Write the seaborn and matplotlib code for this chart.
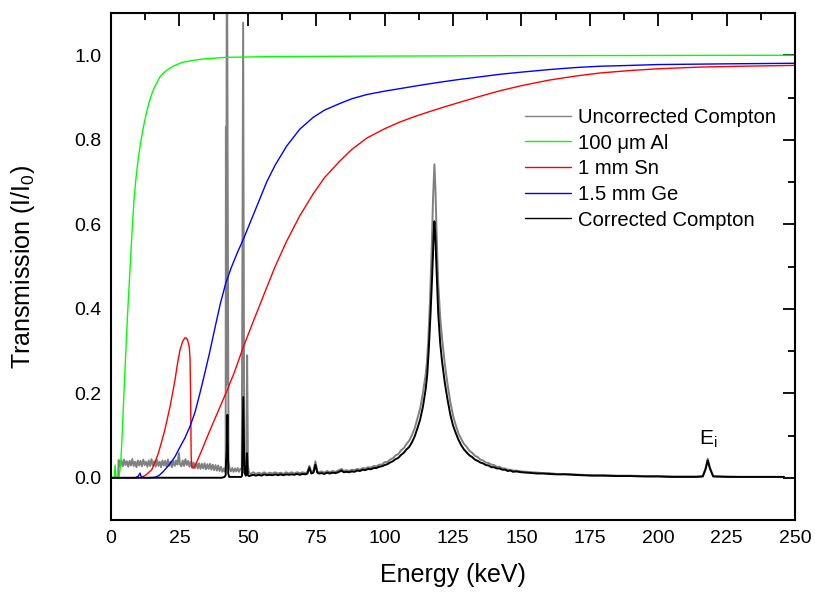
import numpy as np
import pandas as pd
import matplotlib
matplotlib.use("Agg")
import matplotlib.pyplot as plt
import seaborn as sns
from matplotlib.ticker import MultipleLocator

# ---------------- data ----------------
# transmission curves: (energy keV, I/I0)
al_curve = [(0, 0), (1.2, 0), (1.5, 0.03), (1.8, 0), (2.6, 0), (3.0, 0.005), (3.5, 0.03),
            (4.0, 0.09), (4.5, 0.165), (5.0, 0.24), (5.5, 0.31), (6.0, 0.38), (6.5, 0.44),
            (7.0, 0.50), (7.5, 0.56), (8.0, 0.615), (8.5, 0.665), (9.0, 0.70), (9.5, 0.73),
            (10.0, 0.757), (11.0, 0.80), (12.0, 0.835), (13.0, 0.865), (14.0, 0.89), (15.0, 0.91),
            (16.0, 0.926), (18.0, 0.95), (20.0, 0.963), (23.0, 0.975), (26.0, 0.983),
            (30.0, 0.988), (35.0, 0.992), (42.0, 0.995), (60.0, 0.997), (100.0, 0.998),
            (150.0, 0.999), (250.0, 1.0)]

sn_curve = [(0, 0), (11.0, 0), (11.8, 0.003), (13.0, 0.008), (14.9, 0.019), (16.0, 0.035),
            (17.3, 0.058), (18.5, 0.085), (19.7, 0.114), (20.6, 0.14), (21.6, 0.169), (22.5, 0.20),
            (23.4, 0.232), (24.3, 0.27), (25.2, 0.302), (26.2, 0.323), (27.0, 0.331), (27.5, 0.331),
            (28.0, 0.326), (28.6, 0.31), (28.9, 0.28), (29.1, 0.19), (29.3, 0.05), (29.6, 0.024),
            (30.2, 0.023), (31.0, 0.032), (32.0, 0.047), (33.5, 0.07), (35.0, 0.094), (37.0, 0.125),
            (40.0, 0.17), (42.3, 0.205), (45.0, 0.248), (48.4, 0.31), (52.0, 0.37), (56.9, 0.45),
            (60.0, 0.50), (64.2, 0.56), (69.0, 0.62), (73.9, 0.672), (78.0, 0.71), (83.7, 0.75),
            (88.0, 0.777), (93.5, 0.804), (100.0, 0.826), (105.6, 0.842), (111.0, 0.855),
            (116.6, 0.867), (122.0, 0.878), (127.6, 0.889), (135.0, 0.903), (142.2, 0.916),
            (150.0, 0.928), (160.0, 0.941), (170.0, 0.951), (178.7, 0.958), (190.0, 0.964),
            (200.0, 0.968), (215.3, 0.972), (230.0, 0.974), (250.0, 0.976)]

ge_curve = [(0, 0), (9.0, 0), (10.0, 0.004), (10.6, 0.011), (11.1, 0.002), (12.0, 0), (14.0, 0),
            (16.0, 0.001), (17.5, 0.005), (19.0, 0.014), (20.5, 0.025), (22.0, 0.037),
            (23.4, 0.05), (25.0, 0.07), (27.0, 0.094), (28.9, 0.122), (30.7, 0.155), (32.5, 0.2),
            (34.0, 0.24), (36.0, 0.295), (38.0, 0.355), (40.0, 0.413), (42.0, 0.462),
            (44.0, 0.498), (46.0, 0.530), (48.4, 0.565), (52.0, 0.622), (56.9, 0.700),
            (60.0, 0.740), (64.2, 0.785), (69.0, 0.825), (73.9, 0.853), (78.0, 0.870),
            (83.7, 0.886), (88.0, 0.897), (93.5, 0.907), (100.0, 0.915), (105.6, 0.921),
            (113.0, 0.929), (120.0, 0.936), (127.6, 0.943), (135.0, 0.949), (142.2, 0.955),
            (150.0, 0.960), (160.0, 0.966), (170.0, 0.971), (178.7, 0.974), (190.0, 0.976),
            (200.0, 0.978), (215.3, 0.979), (230.0, 0.980), (250.0, 0.981)]

# uncorrected Compton spectrum, by segment
unc_low = [(2.6, 0.0), (2.8, 0.042), (3.3, 0.028), (3.8, 0.041), (4.3, 0.027), (4.8, 0.043),
           (5.3, 0.030), (5.8, 0.039), (6.3, 0.026), (6.8, 0.040), (7.3, 0.029), (7.8, 0.044),
           (8.3, 0.028), (8.8, 0.038), (9.3, 0.025), (9.8, 0.041), (10.3, 0.029), (10.8, 0.040),
           (11.3, 0.027), (11.8, 0.043), (12.3, 0.030), (12.8, 0.038), (13.3, 0.026), (13.8, 0.041),
           (14.3, 0.028), (14.8, 0.044), (15.3, 0.029), (15.8, 0.039), (16.3, 0.026), (16.8, 0.042),
           (17.3, 0.028), (17.8, 0.038), (18.3, 0.025), (18.8, 0.041), (19.3, 0.029), (19.8, 0.040),
           (20.3, 0.026), (20.8, 0.043), (21.3, 0.028), (21.8, 0.038), (22.3, 0.025), (22.8, 0.040),
           (23.3, 0.028), (23.8, 0.041), (24.3, 0.031), (24.8, 0.058), (25.2, 0.032), (25.7, 0.027),
           (26.2, 0.041), (26.7, 0.028), (27.2, 0.044), (27.7, 0.030), (28.2, 0.040), (28.7, 0.026),
           (29.2, 0.038), (29.7, 0.024), (30.2, 0.036), (30.7, 0.023), (31.2, 0.035), (31.7, 0.022),
           (32.2, 0.034), (32.7, 0.021), (33.2, 0.033), (33.7, 0.022), (34.2, 0.034), (34.7, 0.020),
           (35.2, 0.032), (35.7, 0.021), (36.2, 0.033), (36.7, 0.019), (37.2, 0.031), (37.7, 0.018),
           (38.2, 0.030), (38.7, 0.017), (39.2, 0.029), (39.7, 0.016), (40.2, 0.026), (40.7, 0.014),
           (41.2, 0.022), (41.6, 0.015)]
unc_lines = [(41.9, 0.03), (42.0, 0.83), (42.1, 0.22), (42.35, 1.4), (42.95, 0.04), (43.3, 0.022),
             (43.8, 0.015), (44.3, 0.023), (44.8, 0.014), (45.3, 0.022), (45.8, 0.015), (46.3, 0.023),
             (46.8, 0.014), (47.3, 0.021), (47.8, 0.022), (48.3, 1.077), (48.7, 0.03), (49.1, 0.02),
             (49.45, 0.03), (49.75, 0.29), (50.05, 0.03), (50.4, 0.012)]
unc_mid = [(51, 0.009), (52, 0.013), (53, 0.009), (54, 0.012), (55, 0.009), (56, 0.013),
           (57, 0.009), (58, 0.012), (59, 0.010), (60, 0.013), (61, 0.010), (62, 0.012), (63, 0.009),
           (64, 0.013), (65, 0.010), (66, 0.013), (67, 0.010), (68, 0.013), (69, 0.011), (70, 0.013),
           (71, 0.011), (71.8, 0.014), (72.5, 0.028), (73.2, 0.014), (74.0, 0.016), (74.7, 0.039),
           (75.4, 0.016), (76, 0.013), (77, 0.015), (78, 0.012), (79, 0.016), (80, 0.013),
           (81, 0.016), (82, 0.014), (83, 0.017), (84.3, 0.021), (85, 0.016), (86, 0.018),
           (87, 0.016), (88, 0.019), (89, 0.018), (90, 0.021), (91, 0.019), (92, 0.023), (93, 0.022),
           (94, 0.025), (95, 0.024), (96, 0.028), (97, 0.027), (98, 0.031), (99, 0.031)]
unc_compton = [(100, 0.037), (101, 0.037), (102, 0.043), (103, 0.046), (104, 0.053), (105, 0.056),
               (106, 0.065), (107, 0.070), (108, 0.080), (109, 0.088), (110, 0.101), (111, 0.117),
               (112, 0.141), (113, 0.164), (114, 0.201), (115, 0.244), (115.5, 0.275), (116, 0.330),
               (116.6, 0.422), (117.2, 0.540), (117.7, 0.660), (118.2, 0.742), (118.6, 0.680),
               (119.0, 0.580), (119.6, 0.460), (120.3, 0.382), (121.0, 0.330), (122.1, 0.264),
               (123.0, 0.222), (124.0, 0.180), (125.1, 0.145), (126, 0.125), (127, 0.105),
               (128, 0.092), (129, 0.080), (130, 0.073), (131, 0.064), (132, 0.059), (133, 0.052),
               (134, 0.049), (135, 0.043), (136, 0.041), (137, 0.036), (138, 0.035), (139, 0.031),
               (140, 0.030), (141, 0.026), (142, 0.026), (143, 0.022), (144, 0.022), (145, 0.019),
               (146, 0.019), (147, 0.017), (148, 0.017)]
unc_tail = [(150, 0.015), (152, 0.014), (154, 0.013), (156, 0.012), (158, 0.011), (160, 0.011),
            (163, 0.009), (166, 0.009), (169, 0.008), (172, 0.007), (176, 0.006), (180, 0.006),
            (185, 0.005), (190, 0.005), (195, 0.004), (200, 0.004), (205, 0.003), (210, 0.003),
            (214, 0.003), (216.3, 0.004), (217.3, 0.022), (218.1, 0.045), (218.9, 0.024),
            (220.1, 0.004), (225, 0.003), (230, 0.002), (235, 0.002), (240, 0.002), (246, 0.002)]

# corrected Compton spectrum, by segment
cor_lines = [(0, 0), (40.5, 0), (41.5, 0.002), (41.9, 0.006), (42.1, 0.043), (42.3, 0.06),
             (42.55, 0.149), (42.85, 0.01), (43.2, 0.002), (47.6, 0.002), (47.9, 0.005),
             (48.35, 0.191), (48.75, 0.012), (49.3, 0.005), (49.7, 0.058), (50.0, 0.006),
             (50.4, 0.004)]
cor_mid = [(51, 0.005), (52, 0.007), (53, 0.005), (54, 0.007), (55, 0.005), (56, 0.008),
           (57, 0.006), (58, 0.007), (59, 0.006), (60, 0.008), (61, 0.006), (62, 0.008), (63, 0.006),
           (64, 0.008), (65, 0.007), (66, 0.008), (67, 0.007), (68, 0.009), (69, 0.007), (70, 0.009),
           (71, 0.008), (71.8, 0.010), (72.5, 0.024), (73.2, 0.010), (74.0, 0.012), (74.7, 0.031),
           (75.4, 0.012), (76, 0.010), (77, 0.011), (78, 0.009), (79, 0.012), (80, 0.010),
           (81, 0.012), (82, 0.011), (83, 0.013), (84.3, 0.017), (85, 0.013), (86, 0.014),
           (87, 0.013), (88, 0.015), (89, 0.014), (90, 0.017), (91, 0.016), (92, 0.019), (93, 0.018),
           (94, 0.021), (95, 0.020), (96, 0.023), (97, 0.023), (98, 0.026), (99, 0.027)]
cor_compton = [(100, 0.030), (101, 0.032), (102, 0.036), (103, 0.039), (104, 0.044), (105, 0.047),
               (106, 0.054), (107, 0.059), (108, 0.067), (109, 0.073), (110, 0.084), (111, 0.098),
               (112, 0.117), (113, 0.138), (114, 0.168), (115, 0.209), (115.6, 0.245),
               (116.2, 0.310), (116.8, 0.390), (117.4, 0.480), (117.9, 0.570), (118.2, 0.607),
               (118.5, 0.580), (119.0, 0.490), (119.6, 0.390), (120.3, 0.320), (121.0, 0.275),
               (122.0, 0.225), (123.0, 0.185), (124.0, 0.150), (125.0, 0.124), (126, 0.106),
               (127, 0.090), (128, 0.077), (129, 0.067), (130, 0.060), (131, 0.053), (132, 0.049),
               (133, 0.043), (134, 0.040), (135, 0.036), (136, 0.034), (137, 0.030), (138, 0.029),
               (139, 0.025), (140, 0.025), (141, 0.022), (142, 0.022), (143, 0.019), (144, 0.019),
               (145, 0.016), (146, 0.017), (147, 0.014), (148, 0.015)]
cor_tail = [(150, 0.013), (152, 0.012), (154, 0.011), (156, 0.010), (158, 0.010), (160, 0.009),
            (163, 0.008), (166, 0.008), (169, 0.007), (172, 0.006), (176, 0.005), (180, 0.005),
            (185, 0.004), (190, 0.004), (195, 0.003), (200, 0.003), (205, 0.002), (210, 0.002),
            (214, 0.002), (216.3, 0.003), (217.3, 0.020), (218.1, 0.041), (218.9, 0.022),
            (220.1, 0.003), (225, 0.002), (230, 0.002), (235, 0.002), (240, 0.002), (246, 0.002)]

labels = ["Uncorrected Compton", "100 \u03bcm Al", "1 mm Sn", "1.5 mm Ge", "Corrected Compton"]
colors = ["#808080", "#00ff00", "#ff0000", "#0000ff", "#000000"]
x_ticks = [0, 25, 50, 75, 100, 125, 150, 175, 200, 225, 250]
y_ticks = [0.0, 0.2, 0.4, 0.6, 0.8, 1.0]

unc_spec = unc_low + unc_lines + unc_mid + unc_compton + unc_tail
cor_spec = cor_lines + cor_mid + cor_compton + cor_tail

# ---------------- style ----------------
sns.set_style("white")
plt.rcParams["font.family"] = ["Liberation Sans", "DejaVu Sans"]
plt.rcParams["mathtext.fontset"] = "custom"
plt.rcParams["mathtext.rm"] = "Liberation Sans"
plt.rcParams["mathtext.it"] = "Liberation Sans"
for k in ["text.color", "axes.labelcolor", "xtick.color", "ytick.color"]:
    plt.rcParams[k] = "black"

fig = plt.figure(figsize=(8.15, 5.92), dpi=100)
ax = fig.add_axes([111 / 815, 1 - 520 / 592, 684 / 815, 507 / 592])

series = [unc_spec, al_curve, sn_curve, ge_curve, cor_spec]
widths = [1.4, 1.0, 1.0, 1.0, 1.4]
for pts, lab, col, lw in zip(series, labels, colors, widths):
    df = pd.DataFrame(pts, columns=["Energy", "T"])
    sns.lineplot(data=df, x="Energy", y="T", ax=ax, color=col, lw=lw, label=lab,
                 estimator=None, sort=False)

ax.set_xlim(0, 250)
ax.set_ylim(-0.1, 1.1)
ax.set_xticks(x_ticks)
ax.set_xticklabels([str(v) for v in x_ticks])
ax.set_yticks(y_ticks)
ax.set_yticklabels([f"{v:.1f}" for v in y_ticks])
ax.xaxis.set_minor_locator(MultipleLocator(12.5))
ax.yaxis.set_minor_locator(MultipleLocator(0.1))
ax.tick_params(which="both", direction="in", top=True, right=True, width=1.3, color="black")
ax.tick_params(which="major", length=9, labelsize=14, pad=7)
ax.tick_params(which="minor", length=5)
for sp in ax.spines.values():
    sp.set_linewidth(1.5)
    sp.set_color("black")

ax.set_xlabel("Energy (keV)", fontsize=18)
ax.set_ylabel("Transmission (I/I$_0$)", fontsize=18)
ax.xaxis.set_label_coords(0.5, -0.084)
ax.yaxis.set_label_coords(-0.108, 0.5)

ax.text(218.3, 0.078, "E$_\\mathrm{i}$", fontsize=15, ha="center", va="baseline")

leg = ax.legend(loc="upper left", bbox_to_anchor=(0.605, 0.813), frameon=False, fontsize=14.6,
                handlelength=2.3, handletextpad=0.3, labelspacing=0.33, borderpad=0,
                borderaxespad=0)
for h in leg.get_lines():
    h.set_linewidth(1.0)

fig.savefig("out.png", dpi=100)
